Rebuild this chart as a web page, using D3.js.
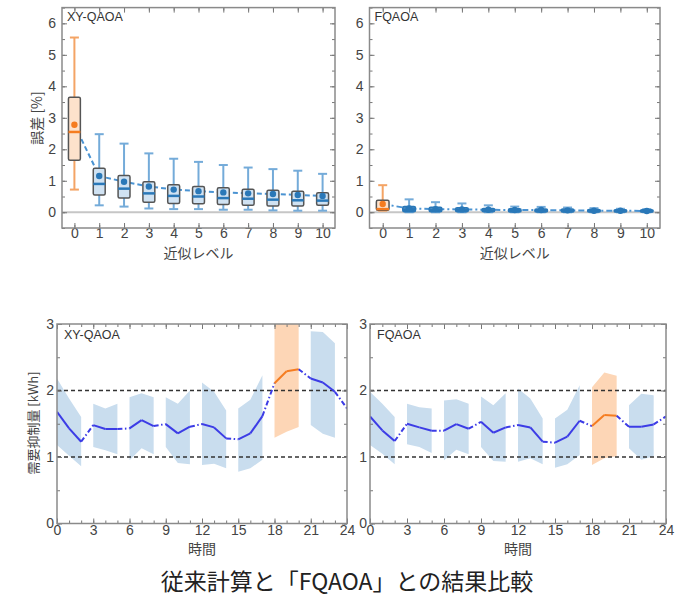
<!DOCTYPE html>
<html><head><meta charset="utf-8">
<script src="https://cdn.jsdelivr.net/npm/d3@7"></script>
<style>
body{margin:0;background:#fff}
svg{display:block}
text{font-family:"Liberation Sans",Arial,sans-serif}
.cjk{font-family:"Noto Sans CJK JP","Noto Sans",sans-serif}
</style>
</head><body>
<svg id="c" width="677" height="596"></svg>
<script>
// ---------- DATA ----------
const levels = [0,1,2,3,4,5,6,7,8,9,10];
// XY-QAOA error [%] box statistics
const xyLow    = [0.72,0.22,0.18,0.12,0.10,0.10,0.08,0.08,0.06,0.05,0.05];
const xyQ1     = [1.65,0.55,0.45,0.32,0.28,0.27,0.25,0.22,0.20,0.20,0.22];
const xyMedian = [2.55,0.90,0.75,0.60,0.52,0.50,0.45,0.43,0.40,0.38,0.37];
const xyQ3     = [3.65,1.40,1.17,0.97,0.87,0.82,0.78,0.73,0.70,0.67,0.62];
const xyHigh   = [5.55,2.48,2.18,1.87,1.70,1.60,1.50,1.42,1.37,1.32,1.22];
const xyMean   = [2.78,1.15,0.97,0.82,0.72,0.67,0.63,0.60,0.58,0.55,0.52];
// FQAOA error [%] box statistics
const fqLow    = [0.05,0.00,0.00,0.00,0.00,0.00,0.00,0.00,0.00,0.00,0.00];
const fqQ1     = [0.06,0.02,0.02,0.02,0.02,0.01,0.01,0.01,0.01,0.01,0.01];
const fqMedian = [0.10,0.07,0.06,0.06,0.05,0.05,0.05,0.04,0.04,0.04,0.03];
const fqQ3     = [0.38,0.18,0.16,0.14,0.12,0.11,0.10,0.10,0.09,0.08,0.08];
const fqHigh   = [0.86,0.41,0.32,0.28,0.22,0.18,0.17,0.15,0.13,0.11,0.10];
const fqMean   = [0.26,0.12,0.10,0.09,0.08,0.07,0.07,0.06,0.05,0.05,0.04];

const hours = [0,1,2,3,4,5,6,7,8,9,10,11,12,13,14,15,16,17,18,19,20,21,22,23,24];
// demand suppression [kWh]
const xyDemand = [1.68,1.43,1.23,1.48,1.42,1.42,1.43,1.555,1.465,1.495,1.355,1.455,1.495,1.445,1.28,1.265,1.355,1.615,2.11,2.29,2.32,2.18,2.12,1.98,1.73];
const xyBandLow  = [1.18,1.02,0.86, 1.15,1.10,1.04, 0.95,1.13,1.04, 1.15,0.91,0.89, 0.88,0.90,0.83, 0.78,0.83,0.96, 1.29,1.38,1.45, 1.48,1.35,1.29];
const xyBandHigh = [2.18,1.88,1.60, 1.80,1.73,1.80, 1.90,1.96,1.90, 1.90,1.80,2.00, 2.12,1.98,1.70, 1.73,1.86,2.23, 3.30,3.30,3.30, 2.89,2.88,2.71];
const fqDemand = [1.61,1.40,1.24,1.50,1.445,1.395,1.395,1.495,1.425,1.53,1.365,1.445,1.48,1.445,1.23,1.215,1.305,1.545,1.465,1.63,1.62,1.455,1.455,1.49,1.61];
const fqBandLow  = [1.18,1.05,0.89, 1.19,1.15,1.06, 0.95,1.11,1.04, 1.15,0.94,0.93, 0.93,0.98,0.89, 0.84,0.89,1.03, 0.88,0.98,1.01, 1.13,0.96,1.01];
const fqBandHigh = [1.98,1.80,1.60, 1.80,1.75,1.73, 1.85,1.87,1.80, 1.91,1.78,1.96, 2.03,1.88,1.58, 1.58,1.71,2.08, 2.05,2.27,2.22, 1.78,1.95,1.93];
const highlightBlock = 6; // hours 18-20

const levelTicks = [0,1,2,3,4,5,6,7,8,9,10];
const errorTicks = [0,1,2,3,4,5,6];
const hourTicks = [0,3,6,9,12,15,18,21,24];
const demandTicks = [0,1,2,3];
const refLines = [1,2];

// ---------- STYLE ----------
const BLUE='#2a78b8', BLUE_W='#74abd9', BLUE_F='#d0e2f2';
const ORANGE='#f57c20', ORANGE_W='#f4a465', ORANGE_F='#fde2cc';
const LINE_BLUE='#3c3ce6', BAND_BLUE='#c9ddee', BAND_OR='#fdd6b6';
const svg = d3.select('#c');
svg.append('rect').attr('width',677).attr('height',596).attr('fill','#fff');

function styleAxis(g){
  g.select('.domain').remove();
  g.selectAll('.tick line').attr('stroke','#777').attr('stroke-width',1);
  g.selectAll('.tick text').attr('fill','#444').style('font-size','14px');
}

function frameAxes(x,y,xr,yr,xTicks,xMinor,yTicks,yMinor,xPad,yPad){
  const [x0,x1]=xr,[yb,yt]=yr;
  // minor ticks
  svg.append('g').attr('transform',`translate(0,${yb})`).call(d3.axisBottom(x).tickValues(xMinor).tickSize(-3).tickFormat('')).call(styleAxis);
  svg.append('g').attr('transform',`translate(0,${yt})`).call(d3.axisTop(x).tickValues(xMinor).tickSize(-3).tickFormat('')).call(styleAxis);
  svg.append('g').attr('transform',`translate(${x0},0)`).call(d3.axisLeft(y).tickValues(yMinor).tickSize(-3).tickFormat('')).call(styleAxis);
  svg.append('g').attr('transform',`translate(${x1},0)`).call(d3.axisRight(y).tickValues(yMinor).tickSize(-3).tickFormat('')).call(styleAxis);
  // major
  svg.append('g').attr('transform',`translate(0,${yb})`).call(d3.axisBottom(x).tickValues(xTicks).tickSize(-5).tickPadding(xPad).tickFormat(d3.format('d'))).call(styleAxis);
  svg.append('g').attr('transform',`translate(0,${yt})`).call(d3.axisTop(x).tickValues(xTicks).tickSize(-5).tickFormat('')).call(styleAxis);
  svg.append('g').attr('transform',`translate(${x0},0)`).call(d3.axisLeft(y).tickValues(yTicks).tickSize(-5).tickPadding(yPad).tickFormat(d3.format('d'))).call(styleAxis);
  svg.append('g').attr('transform',`translate(${x1},0)`).call(d3.axisRight(y).tickValues(yTicks).tickSize(-5).tickFormat('')).call(styleAxis);
  svg.append('rect').attr('x',x0).attr('y',yt).attr('width',x1-x0).attr('height',yb-yt)
    .attr('fill','none').attr('stroke','#8a8a8a').attr('stroke-width',1.5);
}

function boxPanel(o){
  const x=d3.scaleLinear().domain([-0.5,10.5]).range(o.xr);
  const y=d3.scaleLinear().domain([-0.5,6.5]).range([228,7.6]);
  const g=svg.append('g');
  g.append('line').attr('x1',o.xr[0]).attr('x2',o.xr[1]).attr('y1',y(0)).attr('y2',y(0))
    .attr('stroke','#c6c6c6').attr('stroke-width',2);
  // mean line
  g.append('path').datum(levels).attr('fill','none').attr('stroke','#4a93d2').attr('stroke-width',2)
    .attr('stroke-dasharray',o.dash)
    .attr('d',d3.line().x(i=>x(i)).y(i=>y(o.mean[i])));
  const bw=x(0.24)-x(0);
  levels.forEach(i=>{
    const c0 = i===0 ? ORANGE : BLUE, cw = i===0 ? ORANGE_W : BLUE_W, cf = i===0 ? ORANGE_F : BLUE_F;
    const cx=x(i);
    g.append('line').attr('x1',cx).attr('x2',cx).attr('y1',y(o.low[i])).attr('y2',y(o.high[i])).attr('stroke',cw).attr('stroke-width',2);
    [o.low[i],o.high[i]].forEach(v=>g.append('line').attr('x1',cx-4.5).attr('x2',cx+4.5).attr('y1',y(v)).attr('y2',y(v)).attr('stroke',cw).attr('stroke-width',2));
    const hpx=y(o.q1[i])-y(o.q3[i]);
    g.append('rect').attr('x',cx-bw).attr('y',y(o.q3[i])).attr('width',2*bw).attr('height',hpx)
      .attr('rx',1.5).attr('fill',hpx<8?c0:cf).attr('fill-opacity',hpx<8?0.85:1)
      .attr('stroke',hpx<8?c0:'#555').attr('stroke-width',1.5);
    g.append('line').attr('x1',cx-bw).attr('x2',cx+bw).attr('y1',y(o.med[i])).attr('y2',y(o.med[i])).attr('stroke',c0).attr('stroke-width',2.5);
    g.append('circle').attr('cx',cx).attr('cy',y(o.mean[i])).attr('r',3.2).attr('fill',c0);
  });
  frameAxes(x,y,o.xr,[228,7.6],levelTicks,levelTicks,errorTicks,d3.range(-0.5,6.51,0.5),0,6);
  svg.append('text').attr('x',o.xr[0]+5).attr('y',21).attr('fill','#333').style('font-size','12.5px').text(o.title);
  svg.append('text').attr('class','cjk').attr('x',(o.xr[0]+o.xr[1])/2).attr('y',258).attr('text-anchor','middle')
    .attr('fill','#444').style('font-size','14px').text('近似レベル');
}

function linePanel(o){
  const x=d3.scaleLinear().domain([0,24]).range(o.xr);
  const y=d3.scaleLinear().domain([0,3]).range([523.5,324]);
  const id='clip'+o.title.replace(/\W/g,'');
  svg.append('clipPath').attr('id',id).append('rect').attr('x',o.xr[0]).attr('y',324).attr('width',o.xr[1]-o.xr[0]).attr('height',199.5);
  const g=svg.append('g').attr('clip-path',`url(#${id})`);
  // bands
  for(let b=0;b<8;b++){
    const hs=[3*b,3*b+1,3*b+2];
    g.append('path').datum(hs).attr('fill',b===highlightBlock?BAND_OR:BAND_BLUE)
      .attr('d',d3.area().x(h=>x(h)).y0(h=>y(o.lo[h])).y1(h=>y(o.hi[h])));
  }
  refLines.forEach(v=>g.append('line').attr('x1',o.xr[0]).attr('x2',o.xr[1]).attr('y1',y(v)).attr('y2',y(v))
    .attr('stroke','#333').attr('stroke-width',1.6).attr('stroke-dasharray','4,3'));
  // line segments
  for(let h=0;h<24;h++){
    const inBlock = (h%3)!==2;
    const blk=Math.floor(h/3);
    const isOr = inBlock && blk===highlightBlock;
    g.append('path').datum([h,h+1]).attr('fill','none')
      .attr('stroke',isOr?ORANGE:LINE_BLUE).attr('stroke-width',2)
      .attr('stroke-dasharray',inBlock?null:'5,2.5,1.5,2.5')
      .attr('d',d3.line().x(t=>x(t)).y(t=>y(o.v[t])));
  }
  frameAxes(x,y,o.xr,[523.5,324],hourTicks,hours,demandTicks,d3.range(0,3.01,0.5),2,3);
  svg.append('text').attr('x',o.xr[0]+7).attr('y',339).attr('fill','#333').style('font-size','12.5px').text(o.title);
  svg.append('text').attr('class','cjk').attr('x',(o.xr[0]+o.xr[1])/2).attr('y',554).attr('text-anchor','middle')
    .attr('fill','#444').style('font-size','14px').text('時間');
}

boxPanel({xr:[62,335],title:'XY-QAOA',low:xyLow,q1:xyQ1,med:xyMedian,q3:xyQ3,high:xyHigh,mean:xyMean,dash:'5,3'});
boxPanel({xr:[369.5,660],title:'FQAOA',low:fqLow,q1:fqQ1,med:fqMedian,q3:fqQ3,high:fqHigh,mean:fqMean,dash:'6,3,2,3'});
linePanel({xr:[57,347],title:'XY-QAOA',v:xyDemand,lo:xyBandLow,hi:xyBandHigh});
linePanel({xr:[370,666],title:'FQAOA',v:fqDemand,lo:fqBandLow,hi:fqBandHigh});

// y axis titles
svg.append('text').attr('class','cjk').attr('transform','translate(42,118) rotate(-90)').attr('text-anchor','middle')
  .attr('fill','#444').style('font-size','14px').text('誤差 [%]');
svg.append('text').attr('class','cjk').attr('transform','translate(38,423) rotate(-90)').attr('text-anchor','middle')
  .attr('fill','#444').style('font-size','13px').text('需要抑制量 [kWh]');
// caption
svg.append('text').attr('class','cjk').attr('x',347).attr('y',590).attr('text-anchor','middle')
  .attr('fill','#222').style('font-size','23px').text('従来計算と「FQAOA」との結果比較');
</script>
</body></html>
